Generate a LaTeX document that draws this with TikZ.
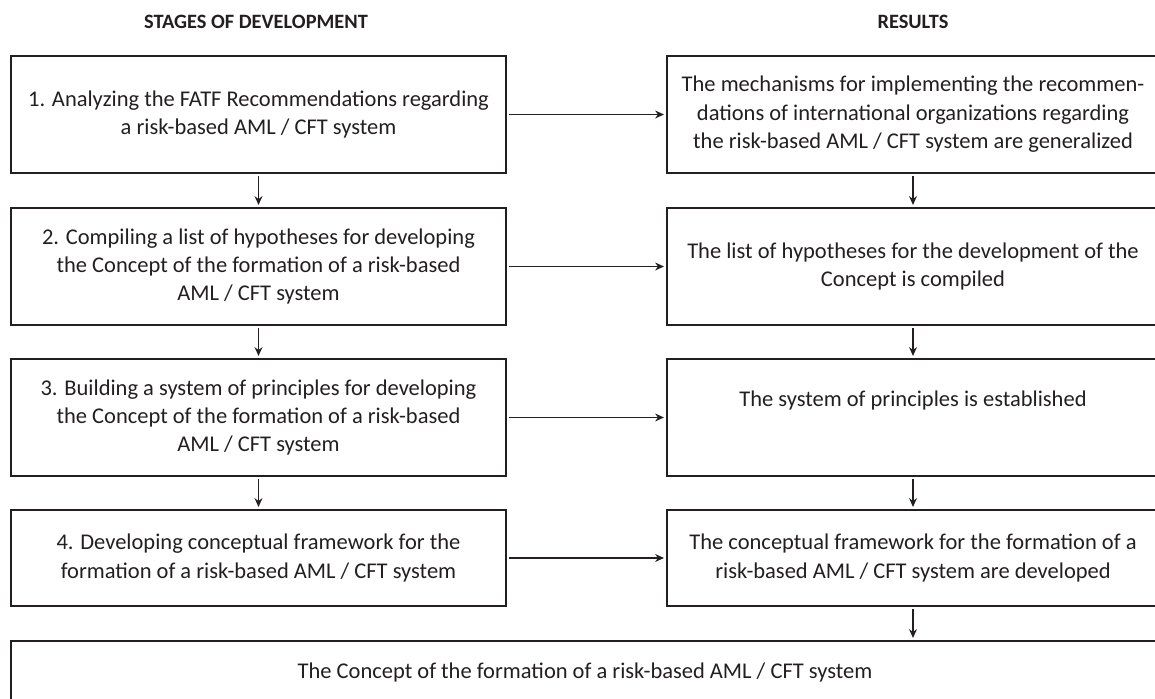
\documentclass[tikz,border=0pt]{standalone}
\usepackage{fontspec}
\setmainfont{Carlito}
\usetikzlibrary{arrows.meta,positioning}
\definecolor{boxdark}{RGB}{35,31,32}

\begin{document}
\begin{tikzpicture}[
      stage/.style={rectangle, draw=boxdark, line width=1.1pt, minimum width=9.9cm, minimum height=2.34cm, align=center, font=\fontsize{12.8}{16.2}\selectfont, text=boxdark, inner sep=0pt},
      result/.style={stage, minimum width=9.84cm},
      head/.style={font=\fontsize{11.6}{13}\selectfont\bfseries, text=boxdark},
      flow/.style={-{Stealth[length=5pt,width=4.5pt]}, line width=0.65pt, boxdark, shorten <=1.2pt, shorten >=1.2pt}
    ]
      \useasboundingbox (0,0) rectangle (23.1,-13.98);

      \node[head] (h1) at (5.12,-0.44) {STAGES OF DEVELOPMENT};
      \node[head] (h2) at (18.26,-0.44) {RESULTS};

      \node[stage] (s1) at (5.17,-2.29) {1. Analyzing the FATF Recommendations regarding\\a risk-based AML / CFT system};
      \node[stage] (s2) at (5.17,-5.33) {2. Compiling a list of hypotheses for developing\\the Concept of the formation of a risk-based\\AML / CFT system};
      \node[stage] (s3) at (5.17,-8.35) {3. Building a system of principles for developing\\the Concept of the formation of a risk-based\\AML / CFT system};
      \node[stage, minimum height=1.92cm] (s4) at (5.17,-11.16) {4. Developing conceptual framework for the\\formation of a risk-based AML / CFT system};

      \node[result] (r1) at (18.26,-2.29) {The mechanisms for implementing the recommen-\\dations of international organizations regarding\\the risk-based AML / CFT system are generalized};
      \node[result] (r2) at (18.26,-5.33) {The list of hypotheses for the development of the\\Concept is compiled};
      \node[result] (r3) at (18.26,-8.35) {The system of principles is established\\ \strut};
      \node[result, minimum height=1.92cm] (r4) at (18.26,-11.16) {The conceptual framework for the formation of a\\risk-based AML / CFT system are developed};

      \node[stage, minimum width=22.96cm, minimum height=1.92cm] (fin) at (11.7,-13.78) {The Concept of the formation of a risk-based AML / CFT system\\ \strut};

      \draw[flow] (s1) -- (r1);
      \draw[flow] (s2) -- (r2);
      \draw[flow] (s3) -- (r3);
      \draw[flow] (s4) -- (r4);

      \draw[flow] (s1) -- (s2);
      \draw[flow] (s2) -- (s3);
      \draw[flow] (s3) -- (s4);
      \draw[flow] (r1) -- (r2);
      \draw[flow] (r2) -- (r3);
      \draw[flow] (r3) -- (r4);
      \draw[flow] (r4) -- (r4 |- fin.north);
    \end{tikzpicture}
\end{document}
